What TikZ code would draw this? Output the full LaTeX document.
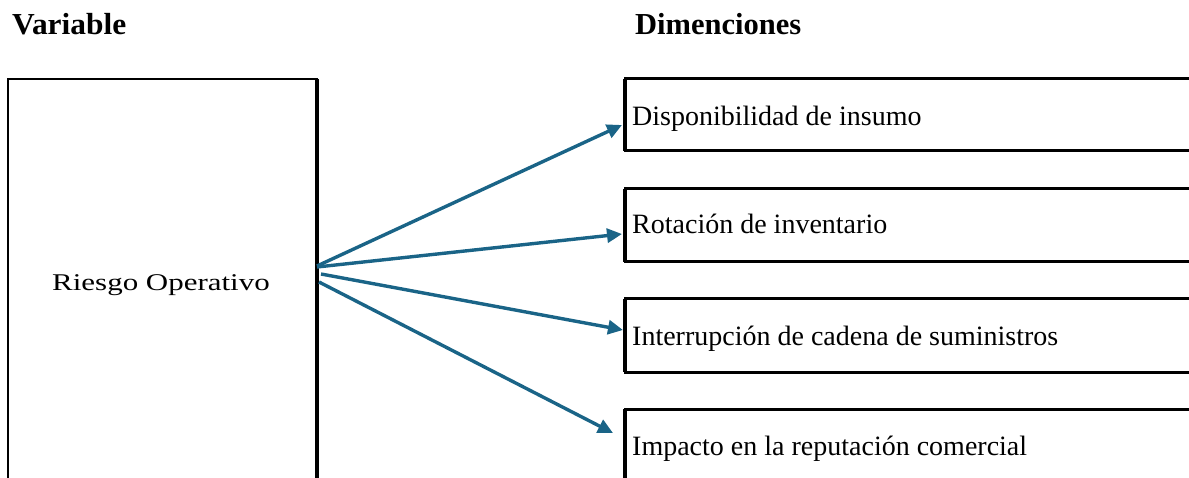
\documentclass[tikz,border=0pt]{standalone}
\usepackage{fontspec}
\setmainfont{Liberation Serif}
\usetikzlibrary{arrows.meta,calc}
\definecolor{arrowblue}{RGB}{26,100,135}
\begin{document}
\begin{tikzpicture}[x=1pt,y=-1pt,
  box/.style={draw=black, rectangle, outer sep=0pt, inner sep=0pt, anchor=north west},
  bodytext/.style={font=\fontsize{28}{34}\selectfont, inner sep=0pt, anchor=base west},
  titletext/.style={font=\fontsize{30.5}{36}\selectfont\bfseries, inner sep=0pt, anchor=base west},
  link/.style={draw=arrowblue, line width=3.4pt, -{Triangle[length=15pt,width=14pt]}}
]
\useasboundingbox (0,0) rectangle (1189,478);
\clip (0,0) rectangle (1189,478);
% titles
\node[titletext] (tv) at (12,35) {\scalebox{1.03}[1]{Variable}};
\node[titletext] (td) at (635,35) {Dimenciones};
% left box
\node[box, line width=2.5pt, minimum width=309pt, minimum height=500pt] (rv) at (8,79) {};
\draw[line width=4.5pt] (rv.north east) -- (rv.south east);
\node[font=\fontsize{24}{30}\selectfont, inner sep=0pt, anchor=base] (rvt) at (161,291) {\scalebox{1.29}[1]{Riesgo Operativo}};
% right boxes
\node[box, line width=3pt, minimum width=700pt, minimum height=72pt] (d1) at (625,79) {};
\node[box, line width=3pt, minimum width=700pt, minimum height=73pt] (d2) at (625,189) {};
\node[box, line width=3pt, minimum width=700pt, minimum height=73pt] (d3) at (625,299) {};
\node[box, line width=3pt, minimum width=700pt, minimum height=100pt] (d4) at (625,409) {};
\foreach \n in {d1,d2,d3,d4}{\draw[line width=4.5pt] (\n.north west) -- (\n.south west);}
\node[bodytext] (t1) at (632,126) {Disponibilidad de insumo};
\node[bodytext] (t2) at (632,234) {Rotación de inventario};
\node[bodytext] (t3) at (632,345) {Interrupción de cadena de suministros};
\node[bodytext] (t4) at (632,455) {Impacto en la reputación comercial};
% arrows
\draw[link] ($(rv.north east)+(0,187)$) -- ($(d1.north west)+(-3,46)$);
\draw[link] ($(rv.north east)+(0,188)$) -- ($(d2.north west)+(-3,45)$);
\draw[link] ($(rv.north east)+(4,195)$) -- ($(d3.north west)+(-2,31)$);
\draw[link] ($(rv.north east)+(2,203)$) -- ($(d4.north west)+(-12,24)$);
\end{tikzpicture}
\end{document}
